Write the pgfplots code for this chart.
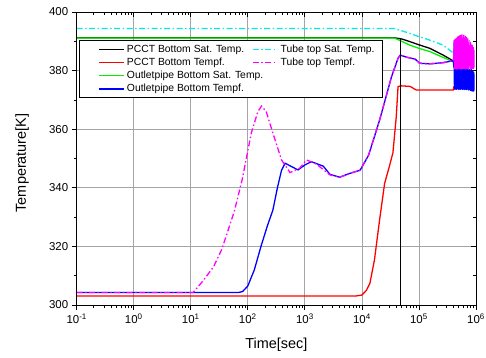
\documentclass[border=0pt]{standalone}
\usepackage{fontspec}
\setmainfont{Liberation Sans}
\usepackage{pgfplots}
\pgfplotsset{compat=1.18}

\definecolor{cGreen}{RGB}{0,240,0}
\definecolor{cCyan}{RGB}{0,235,235}
\definecolor{cMag}{RGB}{255,0,255}
\definecolor{cGrid}{RGB}{165,165,165}

\pgfplotsset{
  frameaxis/.style={
    scale only axis, width=399.3bp, height=293bp,
    xmin=0.1, xmax=1e6, ymin=300, ymax=400,
    xtick={0.1,1,10,100,1000,10000,100000,1000000},
    minor xtick={0.2,0.3,0.4,0.5,0.6,0.7,0.8,0.9,
      2,3,4,5,6,7,8,9,20,30,40,50,60,70,80,90,
      200,300,400,500,600,700,800,900,
      2000,3000,4000,5000,6000,7000,8000,9000,
      20000,30000,40000,50000,60000,70000,80000,90000,
      200000,300000,400000,500000,600000,700000,800000,900000},
    ytick={300,320,340,360,380,400},
    minor ytick={310,330,350,370,390},
    major tick length=5bp, minor tick length=3bp,
    every tick/.style={black, line width=0.8pt},
    axis line style={black, line width=0.9pt},
  },
  dashdot/.style={dash pattern=on 6bp off 2.5bp on 1.5bp off 2.5bp},
}

\begin{document}
\begin{tikzpicture}
\begin{semilogxaxis}[
  frameaxis, name=main, at={(0,0)}, anchor=south west,
  tick pos=left, tick align=outside,
  grid=major, major grid style={cGrid, line width=0.8pt},
  xticklabels={10\textsuperscript{-1},10\textsuperscript{0},10\textsuperscript{1},10\textsuperscript{2},10\textsuperscript{3},10\textsuperscript{4},10\textsuperscript{5},10\textsuperscript{6}},
  /pgf/number format/assume math mode=true,
  ticklabel style={font=\fontsize{11.5}{13}\selectfont},
  xlabel={Time[sec]}, ylabel={Temperature[K]},
  label style={font=\fontsize{14.5}{16}\selectfont},
  xlabel style={at={(axis description cs:0.5,-0.1468)}, anchor=base},
  ylabel style={at={(axis description cs:-0.127,0.485)}, anchor=base},
  legend columns=2,
  legend image code/.code={\path (0bp,0bp); \draw[#1] (13bp,0bp) -- (38bp,0bp);},
  legend image post style={line width=1.5pt},
  legend style={at={(axis description cs:0.006,0.903)}, anchor=north west,
    draw=black, line width=0.8pt,
    nodes={fill=none},
    font=\fontsize{10.4}{12}\selectfont, row sep=0.2bp,
    /tikz/every even column/.append style={column sep=-7bp},
    inner xsep=6bp, inner ysep=2bp},
  legend cell align=left,
]
% legend entries
\addlegendimage{draw=black}
\addlegendentry{PCCT Bottom Sat. Temp.}
\addlegendimage{draw=cCyan, dashdot}
\addlegendentry{Tube top Sat. Temp.}
\addlegendimage{draw=red}
\addlegendentry{PCCT Bottom Tempf.}
\addlegendimage{draw=cMag, dashdot}
\addlegendentry{Tube top Tempf.}
\addlegendimage{draw=cGreen}
\addlegendentry{\rlap{Outletpipe Bottom Sat. Temp.}}
\addlegendimage{empty legend}
\addlegendentry{}
\addlegendimage{draw=blue}
\addlegendentry{Outletpipe Bottom Tempf.}

% PCCT bottom saturation temperature
\addplot[black, line width=1.3pt, forget plot] coordinates {
 (0.1,391.2) (37000,391.2) (50000,390.8) (69000,389.9) (100000,388.8)
 (155000,387.6) (265000,385.3) (400000,383.3) (420000,383.2)};
% outlet pipe bottom saturation temperature
\addplot[cGreen, line width=1.3pt, forget plot] coordinates {
 (0.1,391.1) (37000,391.1) (46000,390.3) (69000,388.7) (100000,387.6)
 (155000,386.5) (265000,384.5) (400000,383.0) (420000,383.0)};
% tube top saturation temperature
\addplot[cCyan, line width=1.3pt, forget plot, dashdot] coordinates {
 (0.1,394.4) (37000,394.4) (69000,392.7) (100000,391.6) (155000,390.4)
 (265000,388.7) (400000,386.0)};
\addplot[cCyan, line width=0.8pt, forget plot] coordinates {
 (400000,386.0) (405000,389.5) (410000,386.2) (415000,390.2) (420000,386.5)
 (425000,390.0) (430000,386.4) (440000,389.6) (450000,386.8) (460000,389.2)};
% PCCT bottom fluid temperature
\addplot[red, line width=1.3pt, forget plot] coordinates {
 (0.1,303.1) (8000,303.1) (10000,303.4) (12000,305.0) (13800,307.4)
 (16600,315.4) (20400,329.0) (25000,341.5) (30000,347.0) (35000,352.0)
 (40000,364.3) (43000,374.5) (48000,374.8) (70000,374.6) (89000,373.4)
 (400000,373.4) (410000,374.5) (870000,374.5)};
% outlet pipe bottom fluid temperature
\addplot[blue, line width=1.3pt, forget plot] coordinates {
 (0.1,304.3) (70,304.3) (81,304.6) (100,306.5) (130,312) (170,320)
 (220,327) (275,332.4) (330,340) (390,346) (450,348.4) (550,347.5)
 (760,346.1) (1000,347.8) (1300,348.9) (2100,347.4) (2750,344.6)
 (4070,343.6) (6100,344.9) (9300,346.0) (13000,351.0) (16000,356.5)
 (20400,363.1) (26000,370.5) (33000,377.9) (43000,384.2) (47000,385.3)
 (60000,384.6) (86000,383.9) (103000,382.5) (155000,382.3) (265000,382.7)
 (400000,383.4) (410000,381.0)};
\addplot[blue, line width=0.8pt, forget plot] coordinates {
 (410000,381.0) (415000,373.6) (420000,380.6) (425000,373.4) (430000,380.8)
 (440000,373.5) (450000,380.7) (460000,373.4) (470000,381.0) (480000,373.6)
 (490000,380.6) (500000,373.3) (510000,380.9) (520000,373.5) (530000,380.7)
 (540000,373.4) (550000,381.0) (560000,373.6) (570000,380.8) (580000,373.4)
 (590000,380.6) (600000,373.5) (610000,380.9) (620000,373.3) (630000,380.7)
 (640000,373.5) (650000,380.5) (660000,373.4) (670000,380.8) (680000,373.3)
 (690000,380.6) (700000,373.5) (715000,380.7) (730000,373.2) (745000,380.4)
 (760000,373.4) (775000,380.6) (790000,373.1) (805000,380.3) (820000,373.0)
 (835000,380.5) (850000,372.9) (865000,380.2) (880000,372.8) (895000,380.0)
 (910000,372.8) (925000,379.5) (935000,373.2)};
% tube top fluid temperature
\addplot[cMag, line width=1.3pt, forget plot, dashdot] coordinates {
 (0.1,304.3) (11,304.3) (16,308) (25,313) (35,319) (58,332) (80,343)
 (115,358.7) (150,366) (174,367.9) (210,366) (275,358.7) (390,349.5)
 (550,345.2) (810,346.7) (1070,349.5) (1590,348.1) (2750,344.4)
 (4070,343.6) (6100,344.9) (9300,346.0) (13000,351.0) (16000,356.5)
 (20400,363.1) (26000,370.5) (33000,377.9) (43000,384.2) (47000,385.3)
 (60000,384.6) (86000,383.9) (103000,382.5) (155000,382.3) (265000,382.7)
 (400000,383.4)};
\addplot[cMag, line width=0.8pt, forget plot] coordinates {
 (400000,383.4) (410000,390.4) (415000,380.6) (420000,390.6) (425000,380.4)
 (430000,390.9) (440000,380.5) (450000,391.2) (460000,380.3) (470000,391.6)
 (480000,380.5) (490000,391.8) (500000,380.4) (510000,392.0) (520000,380.6)
 (530000,392.1) (540000,380.3) (550000,392.3) (560000,380.5) (575000,392.4)
 (590000,380.4) (605000,392.2) (620000,380.6) (635000,392.0) (650000,380.3)
 (660000,391.8) (675000,380.5) (690000,391.4) (705000,380.4) (720000,391.0)
 (740000,380.6) (760000,390.4) (780000,380.5) (800000,389.8) (820000,380.4)
 (840000,389.2) (860000,380.6) (870000,388.7) (885000,380.5) (900000,388.0)
 (915000,380.6) (930000,387.0) (935000,381.0)};
% marker line
\addplot[black, line width=0.8pt, forget plot] coordinates {(47000,300) (47000,391.2)};
\end{semilogxaxis}

% mirrored ticks on the top and right edges
\begin{semilogxaxis}[
  frameaxis, at={(main.south west)}, anchor=south west,
  tick pos=right, tick align=inside,
  xticklabels={}, yticklabels={},
]
\end{semilogxaxis}

\pgfresetboundingbox
\path[use as bounding box] ([xshift=-76.7bp,yshift=-53bp]main.south west)
  rectangle ([xshift=10bp,yshift=12bp]main.north east);
\end{tikzpicture}
\end{document}
